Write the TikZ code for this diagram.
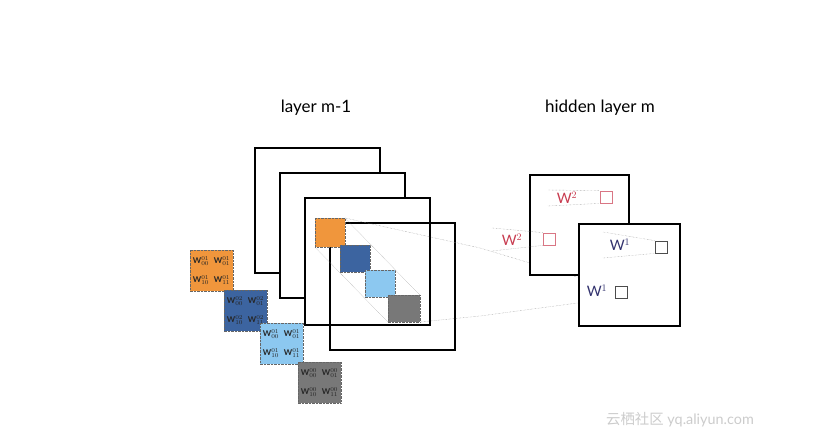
\documentclass[tikz,border=0pt]{standalone}
\usepackage{fontspec}
\setmainfont{Lato}
\newfontfamily\cjk{Noto Sans CJK SC}
\usetikzlibrary{positioning}

\definecolor{korange}{RGB}{240,150,60}
\definecolor{kdblue}{RGB}{60,100,160}
\definecolor{klblue}{RGB}{140,200,240}
\definecolor{kgray}{RGB}{120,120,120}
\definecolor{wred}{RGB}{200,60,80}
\definecolor{wblue}{RGB}{50,50,110}

\tikzset{
  fmap/.style={draw=black, line width=2.2pt, fill=white},
  kern/.style={draw=black!60, densely dotted},
  dotl/.style={draw=black!45, densely dotted, thin},
  unit/.style={draw=black!70, thick, minimum size=12pt, inner sep=0pt},
  wlab/.style={font=\bfseries\fontsize{8}{8}\selectfont, inner sep=0pt, text=black!85}
}

\begin{document}
\begin{tikzpicture}[x=1pt, y=-1pt]
    \fill[white] (0,0) rectangle (818,444);
    % titles
    \node[font=\fontsize{17}{17}\selectfont] (t1) at (316,108) {layer m-1};
    \node[font=\fontsize{17}{17}\selectfont] (t2) at (600,108) {hidden layer m};
    % feature maps of layer m-1
    \draw[fmap] (255,148) rectangle (380,273);
    \draw[fmap] (280,173) rectangle (405,298);
    \draw[fmap] (305,198) rectangle (430,325);
    \draw[fmap, fill=none] (330,223) rectangle (455,350);
    \fill[korange, kern] (315,218) rectangle (345,247);
    \fill[kdblue, kern] (340,245) rectangle (370,272);
    \fill[klblue, kern] (365,270) rectangle (395,297);
    \fill[kgray, kern] (388,295) rectangle (420,322);
    % dotted guides along the kernels
    \draw[dotl] (315,247) -- (388,322);
    \draw[dotl] (345,218) -- (420,295);
    \draw[dotl] (345,218) -- (480,248) -- (620,290);
    \draw[dotl] (420,322) -- (480,316) -- (615,298);
    % weight kernels
    \foreach \c/\x/\y/\s in {korange/190/250/01, kdblue/224/290/02, klblue/260/323/01, kgray/298/362/00}{
      \fill[\c, kern] (\x,\y) rectangle ++(43,41);
      \node[wlab] at (\x+11,\y+11) {W$^{\s}_{00}$};
      \node[wlab] at (\x+32,\y+11) {W$^{\s}_{01}$};
      \node[wlab] at (\x+11,\y+30) {W$^{\s}_{10}$};
      \node[wlab] at (\x+32,\y+30) {W$^{\s}_{11}$};
    }
    % hidden layer m
    \draw[fmap] (530,175) rectangle (629,275);
    \node[unit, draw=wred!70] (u1) at (606,197) {};
    \node[unit, draw=wred!70] (u2) at (549,239) {};
    \node[text=wred, font=\Large] (w1) at (567,198) {W$^2$};
    \node[text=wred, font=\Large] (w2) at (512,240) {W$^2$};
    \draw[dotl] (548,190) -- (u1.north west);
    \draw[dotl] (548,206) -- (u1.south west);
    \draw[dotl] (492,228) -- (u2.north west);
    \draw[dotl] (492,251) -- (u2.south west);
    \draw[fmap] (579,224) rectangle (680,326);
    \node[unit] (u3) at (661,247) {};
    \node[unit] (u4) at (621,292) {};
    \node[text=wblue, font=\Large] (w3) at (620,245) {W$^1$};
    \node[text=wblue, font=\Large] (w4) at (597,291) {W$^1$};
    \draw[dotl] (603,232) -- (u3.north west);
    \draw[dotl] (603,258) -- (u3.south west);
    % watermark
    \node[text=black!20, font=\Large] (wm) at (680,420) {{\cjk 云栖社区} yq.aliyun.com};
\end{tikzpicture}
\end{document}
